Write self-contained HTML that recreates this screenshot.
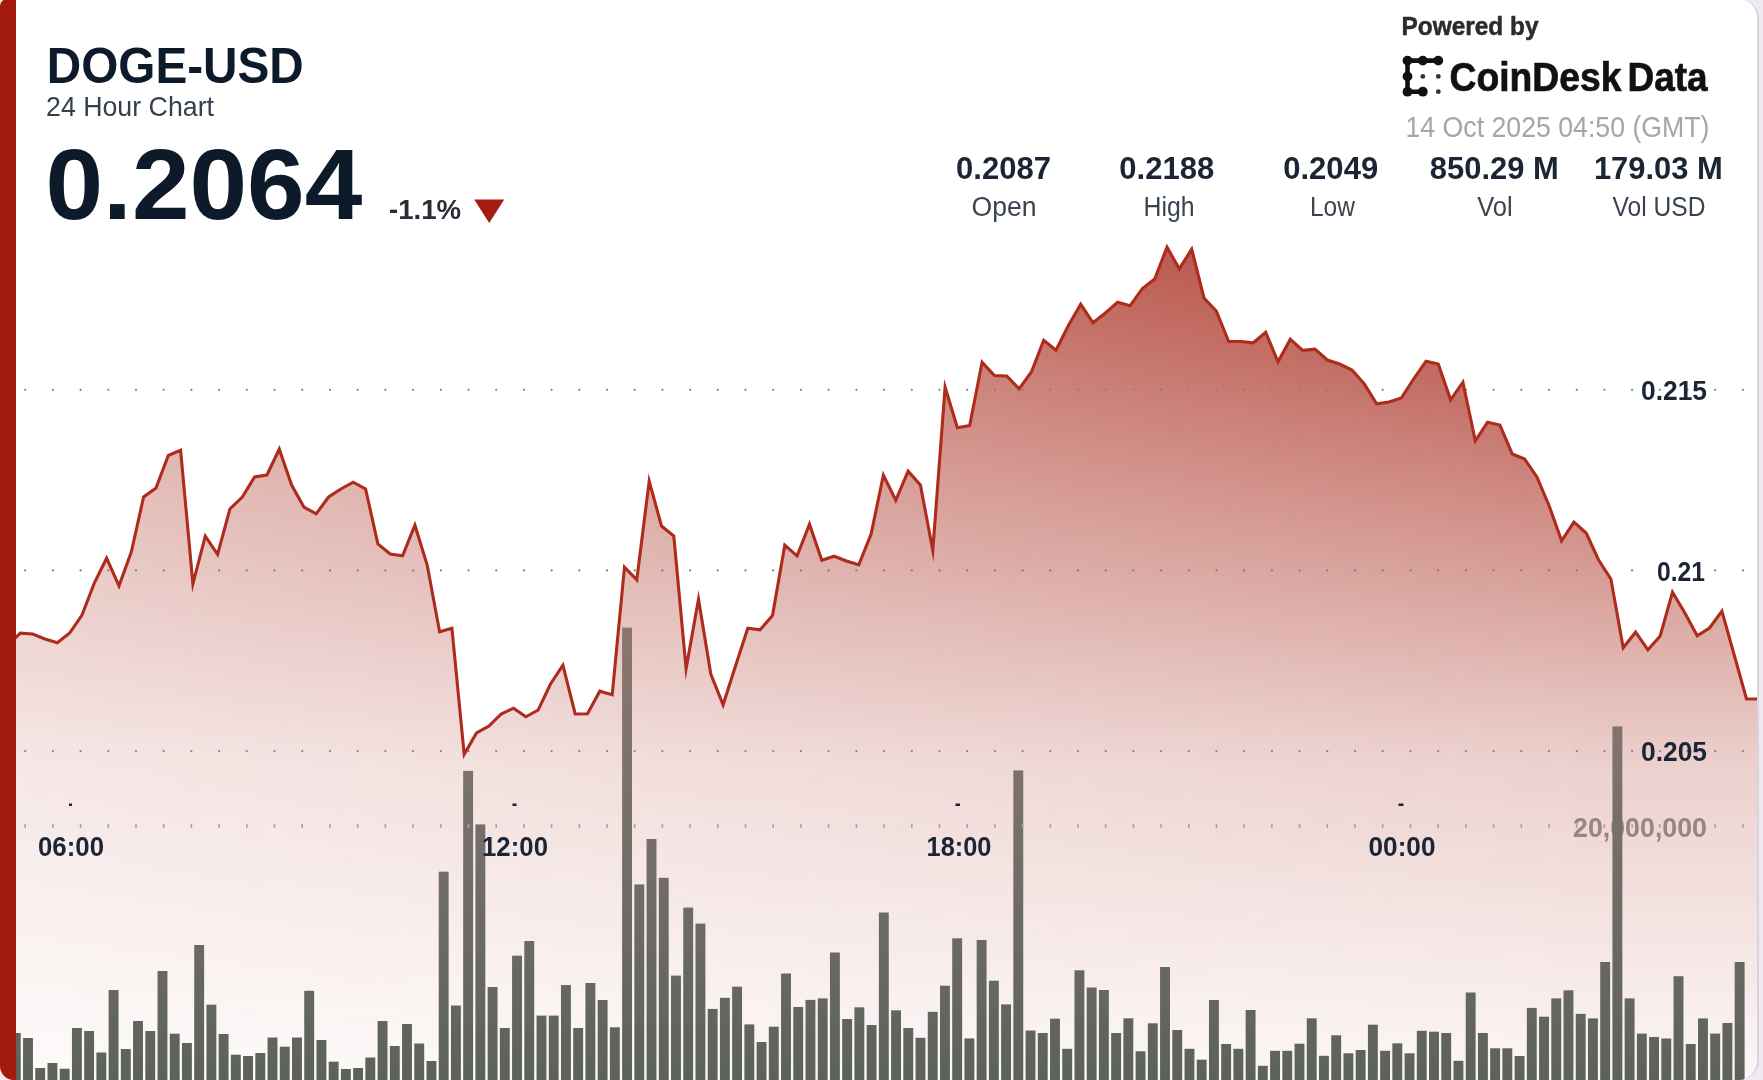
<!DOCTYPE html>
<html><head><meta charset="utf-8">
<style>
html,body{margin:0;padding:0;}
body{width:1763px;height:1080px;overflow:hidden;background:#efeaf1;position:relative;font-family:"Liberation Sans",sans-serif;}
#card{position:absolute;left:0;top:-1px;width:1757px;height:1081px;background:#fff;border-right:2px solid #d9d4dc;border-radius:7px 20px 20px 14px;overflow:hidden;filter:blur(0.5px);}
#redbar{position:absolute;left:0;top:0;width:15.5px;height:1081px;background:#a21b0d;}
svg{position:absolute;left:0;top:1px;}
</style></head>
<body>
<div id="card">
<svg width="1763" height="1080" viewBox="0 0 1763 1080">
<defs>
<linearGradient id="ag" x1="0" y1="246" x2="0" y2="1080" gradientUnits="userSpaceOnUse">
<stop offset="0" stop-color="#a72a1c" stop-opacity="0.9"/>
<stop offset="0.30" stop-color="#a72a1c" stop-opacity="0.56"/>
<stop offset="0.62" stop-color="#a72a1c" stop-opacity="0.22"/>
<stop offset="0.84" stop-color="#a72a1c" stop-opacity="0.115"/>
<stop offset="1" stop-color="#a72a1c" stop-opacity="0.04"/>
</linearGradient>
<linearGradient id="hg" x1="0" y1="0" x2="1600" y2="0" gradientUnits="userSpaceOnUse">
<stop offset="0" stop-color="#fff" stop-opacity="0.5"/>
<stop offset="1" stop-color="#fff" stop-opacity="1"/>
</linearGradient>
<mask id="hm" maskUnits="userSpaceOnUse" x="0" y="0" width="1763" height="1080">
<rect x="0" y="0" width="1763" height="1080" fill="url(#hg)"/>
</mask>
<linearGradient id="bg" x1="0" y1="620" x2="0" y2="1080" gradientUnits="userSpaceOnUse">
<stop offset="0" stop-color="#8c766d"/>
<stop offset="0.4" stop-color="#79706b"/>
<stop offset="1" stop-color="#5c625b"/>
</linearGradient>
</defs>
<path d="M8.0,645.0 L20.3,633.2 L32.7,634.0 L45.0,639.0 L57.3,642.8 L69.7,633.0 L82.0,615.0 L94.3,583.0 L106.6,558.2 L119.0,585.8 L131.3,552.0 L143.6,497.0 L156.0,488.0 L168.3,455.5 L180.6,450.2 L192.9,583.8 L205.3,536.2 L217.6,554.3 L229.9,509.0 L242.3,497.0 L254.6,477.0 L266.9,475.0 L279.3,449.2 L291.6,485.0 L303.9,507.0 L316.2,513.8 L328.6,497.0 L340.9,489.0 L353.2,482.2 L365.6,489.0 L377.9,544.0 L390.2,554.0 L402.6,555.8 L414.9,525.2 L427.2,565.0 L439.6,631.8 L451.9,628.2 L464.2,754.3 L476.5,733.0 L488.9,726.0 L501.2,714.0 L513.5,708.2 L525.9,716.8 L538.2,710.0 L550.5,684.0 L562.9,665.2 L575.2,714.0 L587.5,713.8 L599.8,691.2 L612.2,694.8 L624.5,567.2 L636.8,579.8 L649.2,481.2 L661.5,526.0 L673.8,536.0 L686.1,668.8 L698.5,599.2 L710.8,674.0 L723.1,704.8 L735.5,666.0 L747.8,628.2 L760.1,629.8 L772.5,615.5 L784.8,545.2 L797.1,555.8 L809.5,524.2 L821.8,560.3 L834.1,556.2 L846.4,561.0 L858.8,564.8 L871.1,534.0 L883.4,475.2 L895.8,500.3 L908.1,471.2 L920.4,485.0 L932.8,550.3 L945.1,387.2 L957.4,427.8 L969.7,425.5 L982.1,362.2 L994.4,375.5 L1006.7,376.0 L1019.1,388.8 L1031.4,372.0 L1043.7,340.2 L1056.0,350.3 L1068.4,325.5 L1080.7,304.2 L1093.0,322.8 L1105.4,313.0 L1117.7,302.2 L1130.0,305.8 L1142.4,288.5 L1154.7,279.0 L1167.0,247.2 L1179.3,268.8 L1191.7,249.2 L1204.0,298.0 L1216.3,311.0 L1228.7,341.5 L1241.0,341.5 L1253.3,342.8 L1265.7,332.2 L1278.0,361.8 L1290.3,339.2 L1302.7,350.3 L1315.0,349.2 L1327.3,360.0 L1339.6,364.0 L1352.0,370.0 L1364.3,384.0 L1376.6,403.8 L1389.0,402.0 L1401.3,398.0 L1413.6,379.0 L1426.0,361.2 L1438.3,364.0 L1450.6,399.8 L1462.9,382.2 L1475.3,440.8 L1487.6,422.2 L1499.9,425.0 L1512.3,454.0 L1524.6,459.0 L1536.9,477.0 L1549.2,506.0 L1561.6,540.8 L1573.9,522.2 L1586.2,533.0 L1598.6,560.0 L1610.9,579.0 L1623.2,647.8 L1635.6,632.2 L1647.9,649.8 L1660.2,636.0 L1672.5,592.2 L1684.9,613.0 L1697.2,635.8 L1709.5,628.0 L1721.9,611.2 L1734.2,655.0 L1746.5,699.0 L1758.9,699.0 L1758.9,1080 L8.0,1080 Z" fill="url(#ag)" mask="url(#hm)"/>
<text x="1707" y="836.5" text-anchor="end" font-family="Liberation Sans" font-weight="bold" font-size="28" fill="#968580" textLength="134" lengthAdjust="spacingAndGlyphs">20,000,000</text>
<g fill="url(#bg)"><rect x="10.82" y="1033.0" width="9.9" height="47.0"/><rect x="23.05" y="1038.0" width="9.9" height="42.0"/><rect x="35.27" y="1068.0" width="9.9" height="12.0"/><rect x="47.50" y="1063.0" width="9.9" height="17.0"/><rect x="59.72" y="1068.7" width="9.9" height="11.3"/><rect x="71.95" y="1028.0" width="9.9" height="52.0"/><rect x="84.18" y="1031.0" width="9.9" height="49.0"/><rect x="96.40" y="1052.5" width="9.9" height="27.5"/><rect x="108.63" y="990.0" width="9.9" height="90.0"/><rect x="120.85" y="1049.0" width="9.9" height="31.0"/><rect x="133.08" y="1021.0" width="9.9" height="59.0"/><rect x="145.31" y="1031.0" width="9.9" height="49.0"/><rect x="157.53" y="971.0" width="9.9" height="109.0"/><rect x="169.76" y="1033.7" width="9.9" height="46.3"/><rect x="181.98" y="1043.0" width="9.9" height="37.0"/><rect x="194.21" y="945.0" width="9.9" height="135.0"/><rect x="206.44" y="1004.7" width="9.9" height="75.3"/><rect x="218.66" y="1034.0" width="9.9" height="46.0"/><rect x="230.89" y="1054.7" width="9.9" height="25.3"/><rect x="243.11" y="1056.0" width="9.9" height="24.0"/><rect x="255.34" y="1053.0" width="9.9" height="27.0"/><rect x="267.57" y="1037.5" width="9.9" height="42.5"/><rect x="279.79" y="1046.7" width="9.9" height="33.3"/><rect x="292.02" y="1037.5" width="9.9" height="42.5"/><rect x="304.24" y="990.8" width="9.9" height="89.2"/><rect x="316.47" y="1040.0" width="9.9" height="40.0"/><rect x="328.70" y="1061.7" width="9.9" height="18.3"/><rect x="340.92" y="1069.0" width="9.9" height="11.0"/><rect x="353.15" y="1068.0" width="9.9" height="12.0"/><rect x="365.37" y="1057.5" width="9.9" height="22.5"/><rect x="377.60" y="1021.0" width="9.9" height="59.0"/><rect x="389.83" y="1046.0" width="9.9" height="34.0"/><rect x="402.05" y="1024.0" width="9.9" height="56.0"/><rect x="414.28" y="1043.5" width="9.9" height="36.5"/><rect x="426.50" y="1061.0" width="9.9" height="19.0"/><rect x="438.73" y="871.7" width="9.9" height="208.3"/><rect x="450.96" y="1005.5" width="9.9" height="74.5"/><rect x="463.18" y="770.9" width="9.9" height="309.1"/><rect x="475.41" y="824.4" width="9.9" height="255.6"/><rect x="487.63" y="987.0" width="9.9" height="93.0"/><rect x="499.86" y="1028.0" width="9.9" height="52.0"/><rect x="512.09" y="955.7" width="9.9" height="124.3"/><rect x="524.31" y="941.0" width="9.9" height="139.0"/><rect x="536.54" y="1015.6" width="9.9" height="64.4"/><rect x="548.76" y="1015.6" width="9.9" height="64.4"/><rect x="560.99" y="985.0" width="9.9" height="95.0"/><rect x="573.22" y="1028.0" width="9.9" height="52.0"/><rect x="585.44" y="983.0" width="9.9" height="97.0"/><rect x="597.67" y="1000.0" width="9.9" height="80.0"/><rect x="609.89" y="1027.3" width="9.9" height="52.7"/><rect x="622.12" y="627.6" width="9.9" height="452.4"/><rect x="634.35" y="884.4" width="9.9" height="195.6"/><rect x="646.57" y="839.0" width="9.9" height="241.0"/><rect x="658.80" y="877.8" width="9.9" height="202.2"/><rect x="671.02" y="975.6" width="9.9" height="104.4"/><rect x="683.25" y="907.6" width="9.9" height="172.4"/><rect x="695.48" y="923.6" width="9.9" height="156.4"/><rect x="707.70" y="1008.9" width="9.9" height="71.1"/><rect x="719.93" y="997.8" width="9.9" height="82.2"/><rect x="732.15" y="986.7" width="9.9" height="93.3"/><rect x="744.38" y="1024.4" width="9.9" height="55.6"/><rect x="756.61" y="1042.0" width="9.9" height="38.0"/><rect x="768.83" y="1026.7" width="9.9" height="53.3"/><rect x="781.06" y="973.5" width="9.9" height="106.5"/><rect x="793.28" y="1007.0" width="9.9" height="73.0"/><rect x="805.51" y="999.9" width="9.9" height="80.1"/><rect x="817.74" y="998.4" width="9.9" height="81.6"/><rect x="829.96" y="952.5" width="9.9" height="127.5"/><rect x="842.19" y="1019.0" width="9.9" height="61.0"/><rect x="854.41" y="1007.3" width="9.9" height="72.7"/><rect x="866.64" y="1025.0" width="9.9" height="55.0"/><rect x="878.87" y="912.5" width="9.9" height="167.5"/><rect x="891.09" y="1010.3" width="9.9" height="69.7"/><rect x="903.32" y="1028.0" width="9.9" height="52.0"/><rect x="915.54" y="1037.8" width="9.9" height="42.2"/><rect x="927.77" y="1011.8" width="9.9" height="68.2"/><rect x="940.00" y="985.7" width="9.9" height="94.3"/><rect x="952.22" y="938.3" width="9.9" height="141.7"/><rect x="964.45" y="1038.4" width="9.9" height="41.6"/><rect x="976.67" y="940.0" width="9.9" height="140.0"/><rect x="988.90" y="980.7" width="9.9" height="99.3"/><rect x="1001.13" y="1004.4" width="9.9" height="75.6"/><rect x="1013.35" y="770.4" width="9.9" height="309.6"/><rect x="1025.58" y="1030.5" width="9.9" height="49.5"/><rect x="1037.80" y="1033.0" width="9.9" height="47.0"/><rect x="1050.03" y="1018.7" width="9.9" height="61.3"/><rect x="1062.26" y="1048.8" width="9.9" height="31.2"/><rect x="1074.48" y="970.3" width="9.9" height="109.7"/><rect x="1086.71" y="987.5" width="9.9" height="92.5"/><rect x="1098.93" y="990.0" width="9.9" height="90.0"/><rect x="1111.16" y="1033.0" width="9.9" height="47.0"/><rect x="1123.39" y="1018.3" width="9.9" height="61.7"/><rect x="1135.61" y="1051.3" width="9.9" height="28.7"/><rect x="1147.84" y="1023.3" width="9.9" height="56.7"/><rect x="1160.06" y="967.0" width="9.9" height="113.0"/><rect x="1172.29" y="1030.0" width="9.9" height="50.0"/><rect x="1184.52" y="1048.8" width="9.9" height="31.2"/><rect x="1196.74" y="1059.7" width="9.9" height="20.3"/><rect x="1208.97" y="1000.0" width="9.9" height="80.0"/><rect x="1221.19" y="1044.0" width="9.9" height="36.0"/><rect x="1233.42" y="1048.8" width="9.9" height="31.2"/><rect x="1245.65" y="1010.0" width="9.9" height="70.0"/><rect x="1257.87" y="1065.8" width="9.9" height="14.2"/><rect x="1270.10" y="1050.8" width="9.9" height="29.2"/><rect x="1282.32" y="1050.8" width="9.9" height="29.2"/><rect x="1294.55" y="1043.7" width="9.9" height="36.3"/><rect x="1306.78" y="1018.3" width="9.9" height="61.7"/><rect x="1319.00" y="1055.8" width="9.9" height="24.2"/><rect x="1331.23" y="1035.3" width="9.9" height="44.7"/><rect x="1343.45" y="1053.3" width="9.9" height="26.7"/><rect x="1355.68" y="1050.0" width="9.9" height="30.0"/><rect x="1367.91" y="1024.7" width="9.9" height="55.3"/><rect x="1380.13" y="1050.8" width="9.9" height="29.2"/><rect x="1392.36" y="1043.3" width="9.9" height="36.7"/><rect x="1404.58" y="1053.3" width="9.9" height="26.7"/><rect x="1416.81" y="1030.8" width="9.9" height="49.2"/><rect x="1429.04" y="1031.7" width="9.9" height="48.3"/><rect x="1441.26" y="1033.0" width="9.9" height="47.0"/><rect x="1453.49" y="1060.8" width="9.9" height="19.2"/><rect x="1465.71" y="992.5" width="9.9" height="87.5"/><rect x="1477.94" y="1033.0" width="9.9" height="47.0"/><rect x="1490.17" y="1048.3" width="9.9" height="31.7"/><rect x="1502.39" y="1048.3" width="9.9" height="31.7"/><rect x="1514.62" y="1056.0" width="9.9" height="24.0"/><rect x="1526.84" y="1007.9" width="9.9" height="72.1"/><rect x="1539.07" y="1016.7" width="9.9" height="63.3"/><rect x="1551.30" y="998.4" width="9.9" height="81.6"/><rect x="1563.52" y="990.3" width="9.9" height="89.7"/><rect x="1575.75" y="1013.9" width="9.9" height="66.1"/><rect x="1587.97" y="1018.4" width="9.9" height="61.6"/><rect x="1600.20" y="962.0" width="9.9" height="118.0"/><rect x="1612.43" y="726.4" width="9.9" height="353.6"/><rect x="1624.65" y="998.4" width="9.9" height="81.6"/><rect x="1636.88" y="1033.6" width="9.9" height="46.4"/><rect x="1649.10" y="1037.0" width="9.9" height="43.0"/><rect x="1661.33" y="1038.5" width="9.9" height="41.5"/><rect x="1673.56" y="976.2" width="9.9" height="103.8"/><rect x="1685.78" y="1044.0" width="9.9" height="36.0"/><rect x="1698.01" y="1018.4" width="9.9" height="61.6"/><rect x="1710.23" y="1033.6" width="9.9" height="46.4"/><rect x="1722.46" y="1023.0" width="9.9" height="57.0"/><rect x="1734.69" y="962.0" width="9.9" height="118.0"/></g>
<g fill="#7b7f84"><circle cx="25.2" cy="389.8" r="1.1"/><circle cx="52.9" cy="389.8" r="1.1"/><circle cx="80.6" cy="389.8" r="1.1"/><circle cx="108.3" cy="389.8" r="1.1"/><circle cx="136.0" cy="389.8" r="1.1"/><circle cx="163.7" cy="389.8" r="1.1"/><circle cx="191.4" cy="389.8" r="1.1"/><circle cx="219.1" cy="389.8" r="1.1"/><circle cx="246.8" cy="389.8" r="1.1"/><circle cx="274.5" cy="389.8" r="1.1"/><circle cx="302.2" cy="389.8" r="1.1"/><circle cx="330.0" cy="389.8" r="1.1"/><circle cx="357.7" cy="389.8" r="1.1"/><circle cx="385.4" cy="389.8" r="1.1"/><circle cx="413.1" cy="389.8" r="1.1"/><circle cx="440.8" cy="389.8" r="1.1"/><circle cx="468.5" cy="389.8" r="1.1"/><circle cx="496.2" cy="389.8" r="1.1"/><circle cx="523.9" cy="389.8" r="1.1"/><circle cx="551.6" cy="389.8" r="1.1"/><circle cx="579.3" cy="389.8" r="1.1"/><circle cx="607.0" cy="389.8" r="1.1"/><circle cx="634.7" cy="389.8" r="1.1"/><circle cx="662.4" cy="389.8" r="1.1"/><circle cx="690.1" cy="389.8" r="1.1"/><circle cx="717.8" cy="389.8" r="1.1"/><circle cx="745.5" cy="389.8" r="1.1"/><circle cx="773.2" cy="389.8" r="1.1"/><circle cx="800.9" cy="389.8" r="1.1"/><circle cx="828.6" cy="389.8" r="1.1"/><circle cx="856.4" cy="389.8" r="1.1"/><circle cx="884.1" cy="389.8" r="1.1"/><circle cx="911.8" cy="389.8" r="1.1"/><circle cx="939.5" cy="389.8" r="1.1"/><circle cx="967.2" cy="389.8" r="1.1"/><circle cx="994.9" cy="389.8" r="1.1"/><circle cx="1022.6" cy="389.8" r="1.1"/><circle cx="1050.3" cy="389.8" r="1.1"/><circle cx="1078.0" cy="389.8" r="1.1"/><circle cx="1105.7" cy="389.8" r="1.1"/><circle cx="1133.4" cy="389.8" r="1.1"/><circle cx="1161.1" cy="389.8" r="1.1"/><circle cx="1188.8" cy="389.8" r="1.1"/><circle cx="1216.5" cy="389.8" r="1.1"/><circle cx="1244.2" cy="389.8" r="1.1"/><circle cx="1271.9" cy="389.8" r="1.1"/><circle cx="1299.6" cy="389.8" r="1.1"/><circle cx="1327.3" cy="389.8" r="1.1"/><circle cx="1355.0" cy="389.8" r="1.1"/><circle cx="1382.7" cy="389.8" r="1.1"/><circle cx="1410.5" cy="389.8" r="1.1"/><circle cx="1438.2" cy="389.8" r="1.1"/><circle cx="1465.9" cy="389.8" r="1.1"/><circle cx="1493.6" cy="389.8" r="1.1"/><circle cx="1521.3" cy="389.8" r="1.1"/><circle cx="1549.0" cy="389.8" r="1.1"/><circle cx="1576.7" cy="389.8" r="1.1"/><circle cx="1604.4" cy="389.8" r="1.1"/><circle cx="1632.1" cy="389.8" r="1.1"/><circle cx="1659.8" cy="389.8" r="1.1"/><circle cx="1687.5" cy="389.8" r="1.1"/><circle cx="1715.2" cy="389.8" r="1.1"/><circle cx="1742.9" cy="389.8" r="1.1"/><circle cx="25.2" cy="570.4" r="1.1"/><circle cx="52.9" cy="570.4" r="1.1"/><circle cx="80.6" cy="570.4" r="1.1"/><circle cx="108.3" cy="570.4" r="1.1"/><circle cx="136.0" cy="570.4" r="1.1"/><circle cx="163.7" cy="570.4" r="1.1"/><circle cx="191.4" cy="570.4" r="1.1"/><circle cx="219.1" cy="570.4" r="1.1"/><circle cx="246.8" cy="570.4" r="1.1"/><circle cx="274.5" cy="570.4" r="1.1"/><circle cx="302.2" cy="570.4" r="1.1"/><circle cx="330.0" cy="570.4" r="1.1"/><circle cx="357.7" cy="570.4" r="1.1"/><circle cx="385.4" cy="570.4" r="1.1"/><circle cx="413.1" cy="570.4" r="1.1"/><circle cx="440.8" cy="570.4" r="1.1"/><circle cx="468.5" cy="570.4" r="1.1"/><circle cx="496.2" cy="570.4" r="1.1"/><circle cx="523.9" cy="570.4" r="1.1"/><circle cx="551.6" cy="570.4" r="1.1"/><circle cx="579.3" cy="570.4" r="1.1"/><circle cx="607.0" cy="570.4" r="1.1"/><circle cx="634.7" cy="570.4" r="1.1"/><circle cx="662.4" cy="570.4" r="1.1"/><circle cx="690.1" cy="570.4" r="1.1"/><circle cx="717.8" cy="570.4" r="1.1"/><circle cx="745.5" cy="570.4" r="1.1"/><circle cx="773.2" cy="570.4" r="1.1"/><circle cx="800.9" cy="570.4" r="1.1"/><circle cx="828.6" cy="570.4" r="1.1"/><circle cx="856.4" cy="570.4" r="1.1"/><circle cx="884.1" cy="570.4" r="1.1"/><circle cx="911.8" cy="570.4" r="1.1"/><circle cx="939.5" cy="570.4" r="1.1"/><circle cx="967.2" cy="570.4" r="1.1"/><circle cx="994.9" cy="570.4" r="1.1"/><circle cx="1022.6" cy="570.4" r="1.1"/><circle cx="1050.3" cy="570.4" r="1.1"/><circle cx="1078.0" cy="570.4" r="1.1"/><circle cx="1105.7" cy="570.4" r="1.1"/><circle cx="1133.4" cy="570.4" r="1.1"/><circle cx="1161.1" cy="570.4" r="1.1"/><circle cx="1188.8" cy="570.4" r="1.1"/><circle cx="1216.5" cy="570.4" r="1.1"/><circle cx="1244.2" cy="570.4" r="1.1"/><circle cx="1271.9" cy="570.4" r="1.1"/><circle cx="1299.6" cy="570.4" r="1.1"/><circle cx="1327.3" cy="570.4" r="1.1"/><circle cx="1355.0" cy="570.4" r="1.1"/><circle cx="1382.7" cy="570.4" r="1.1"/><circle cx="1410.5" cy="570.4" r="1.1"/><circle cx="1438.2" cy="570.4" r="1.1"/><circle cx="1465.9" cy="570.4" r="1.1"/><circle cx="1493.6" cy="570.4" r="1.1"/><circle cx="1521.3" cy="570.4" r="1.1"/><circle cx="1549.0" cy="570.4" r="1.1"/><circle cx="1576.7" cy="570.4" r="1.1"/><circle cx="1604.4" cy="570.4" r="1.1"/><circle cx="1632.1" cy="570.4" r="1.1"/><circle cx="1659.8" cy="570.4" r="1.1"/><circle cx="1687.5" cy="570.4" r="1.1"/><circle cx="1715.2" cy="570.4" r="1.1"/><circle cx="1742.9" cy="570.4" r="1.1"/><circle cx="25.2" cy="751" r="1.1"/><circle cx="52.9" cy="751" r="1.1"/><circle cx="80.6" cy="751" r="1.1"/><circle cx="108.3" cy="751" r="1.1"/><circle cx="136.0" cy="751" r="1.1"/><circle cx="163.7" cy="751" r="1.1"/><circle cx="191.4" cy="751" r="1.1"/><circle cx="219.1" cy="751" r="1.1"/><circle cx="246.8" cy="751" r="1.1"/><circle cx="274.5" cy="751" r="1.1"/><circle cx="302.2" cy="751" r="1.1"/><circle cx="330.0" cy="751" r="1.1"/><circle cx="357.7" cy="751" r="1.1"/><circle cx="385.4" cy="751" r="1.1"/><circle cx="413.1" cy="751" r="1.1"/><circle cx="440.8" cy="751" r="1.1"/><circle cx="468.5" cy="751" r="1.1"/><circle cx="496.2" cy="751" r="1.1"/><circle cx="523.9" cy="751" r="1.1"/><circle cx="551.6" cy="751" r="1.1"/><circle cx="579.3" cy="751" r="1.1"/><circle cx="607.0" cy="751" r="1.1"/><circle cx="634.7" cy="751" r="1.1"/><circle cx="662.4" cy="751" r="1.1"/><circle cx="690.1" cy="751" r="1.1"/><circle cx="717.8" cy="751" r="1.1"/><circle cx="745.5" cy="751" r="1.1"/><circle cx="773.2" cy="751" r="1.1"/><circle cx="800.9" cy="751" r="1.1"/><circle cx="828.6" cy="751" r="1.1"/><circle cx="856.4" cy="751" r="1.1"/><circle cx="884.1" cy="751" r="1.1"/><circle cx="911.8" cy="751" r="1.1"/><circle cx="939.5" cy="751" r="1.1"/><circle cx="967.2" cy="751" r="1.1"/><circle cx="994.9" cy="751" r="1.1"/><circle cx="1022.6" cy="751" r="1.1"/><circle cx="1050.3" cy="751" r="1.1"/><circle cx="1078.0" cy="751" r="1.1"/><circle cx="1105.7" cy="751" r="1.1"/><circle cx="1133.4" cy="751" r="1.1"/><circle cx="1161.1" cy="751" r="1.1"/><circle cx="1188.8" cy="751" r="1.1"/><circle cx="1216.5" cy="751" r="1.1"/><circle cx="1244.2" cy="751" r="1.1"/><circle cx="1271.9" cy="751" r="1.1"/><circle cx="1299.6" cy="751" r="1.1"/><circle cx="1327.3" cy="751" r="1.1"/><circle cx="1355.0" cy="751" r="1.1"/><circle cx="1382.7" cy="751" r="1.1"/><circle cx="1410.5" cy="751" r="1.1"/><circle cx="1438.2" cy="751" r="1.1"/><circle cx="1465.9" cy="751" r="1.1"/><circle cx="1493.6" cy="751" r="1.1"/><circle cx="1521.3" cy="751" r="1.1"/><circle cx="1549.0" cy="751" r="1.1"/><circle cx="1576.7" cy="751" r="1.1"/><circle cx="1604.4" cy="751" r="1.1"/><circle cx="1632.1" cy="751" r="1.1"/><circle cx="1659.8" cy="751" r="1.1"/><circle cx="1687.5" cy="751" r="1.1"/><circle cx="1715.2" cy="751" r="1.1"/><circle cx="1742.9" cy="751" r="1.1"/></g>
<g fill="#aaa3a3"><rect x="24.4" y="824" width="1.6" height="4"/><rect x="52.1" y="824" width="1.6" height="4"/><rect x="79.8" y="824" width="1.6" height="4"/><rect x="107.5" y="824" width="1.6" height="4"/><rect x="135.2" y="824" width="1.6" height="4"/><rect x="162.9" y="824" width="1.6" height="4"/><rect x="190.6" y="824" width="1.6" height="4"/><rect x="218.3" y="824" width="1.6" height="4"/><rect x="246.0" y="824" width="1.6" height="4"/><rect x="273.7" y="824" width="1.6" height="4"/><rect x="301.4" y="824" width="1.6" height="4"/><rect x="329.2" y="824" width="1.6" height="4"/><rect x="356.9" y="824" width="1.6" height="4"/><rect x="384.6" y="824" width="1.6" height="4"/><rect x="412.3" y="824" width="1.6" height="4"/><rect x="440.0" y="824" width="1.6" height="4"/><rect x="467.7" y="824" width="1.6" height="4"/><rect x="495.4" y="824" width="1.6" height="4"/><rect x="523.1" y="824" width="1.6" height="4"/><rect x="550.8" y="824" width="1.6" height="4"/><rect x="578.5" y="824" width="1.6" height="4"/><rect x="606.2" y="824" width="1.6" height="4"/><rect x="633.9" y="824" width="1.6" height="4"/><rect x="661.6" y="824" width="1.6" height="4"/><rect x="689.3" y="824" width="1.6" height="4"/><rect x="717.0" y="824" width="1.6" height="4"/><rect x="744.7" y="824" width="1.6" height="4"/><rect x="772.4" y="824" width="1.6" height="4"/><rect x="800.1" y="824" width="1.6" height="4"/><rect x="827.8" y="824" width="1.6" height="4"/><rect x="855.6" y="824" width="1.6" height="4"/><rect x="883.3" y="824" width="1.6" height="4"/><rect x="911.0" y="824" width="1.6" height="4"/><rect x="938.7" y="824" width="1.6" height="4"/><rect x="966.4" y="824" width="1.6" height="4"/><rect x="994.1" y="824" width="1.6" height="4"/><rect x="1021.8" y="824" width="1.6" height="4"/><rect x="1049.5" y="824" width="1.6" height="4"/><rect x="1077.2" y="824" width="1.6" height="4"/><rect x="1104.9" y="824" width="1.6" height="4"/><rect x="1132.6" y="824" width="1.6" height="4"/><rect x="1160.3" y="824" width="1.6" height="4"/><rect x="1188.0" y="824" width="1.6" height="4"/><rect x="1215.7" y="824" width="1.6" height="4"/><rect x="1243.4" y="824" width="1.6" height="4"/><rect x="1271.1" y="824" width="1.6" height="4"/><rect x="1298.8" y="824" width="1.6" height="4"/><rect x="1326.5" y="824" width="1.6" height="4"/><rect x="1354.2" y="824" width="1.6" height="4"/><rect x="1381.9" y="824" width="1.6" height="4"/><rect x="1409.7" y="824" width="1.6" height="4"/><rect x="1437.4" y="824" width="1.6" height="4"/><rect x="1465.1" y="824" width="1.6" height="4"/><rect x="1492.8" y="824" width="1.6" height="4"/><rect x="1520.5" y="824" width="1.6" height="4"/><rect x="1548.2" y="824" width="1.6" height="4"/><rect x="1575.9" y="824" width="1.6" height="4"/><rect x="1603.6" y="824" width="1.6" height="4"/><rect x="1631.3" y="824" width="1.6" height="4"/><rect x="1659.0" y="824" width="1.6" height="4"/><rect x="1686.7" y="824" width="1.6" height="4"/><rect x="1714.4" y="824" width="1.6" height="4"/><rect x="1742.1" y="824" width="1.6" height="4"/></g>
<path d="M8.0,645.0 L20.3,633.2 L32.7,634.0 L45.0,639.0 L57.3,642.8 L69.7,633.0 L82.0,615.0 L94.3,583.0 L106.6,558.2 L119.0,585.8 L131.3,552.0 L143.6,497.0 L156.0,488.0 L168.3,455.5 L180.6,450.2 L192.9,583.8 L205.3,536.2 L217.6,554.3 L229.9,509.0 L242.3,497.0 L254.6,477.0 L266.9,475.0 L279.3,449.2 L291.6,485.0 L303.9,507.0 L316.2,513.8 L328.6,497.0 L340.9,489.0 L353.2,482.2 L365.6,489.0 L377.9,544.0 L390.2,554.0 L402.6,555.8 L414.9,525.2 L427.2,565.0 L439.6,631.8 L451.9,628.2 L464.2,754.3 L476.5,733.0 L488.9,726.0 L501.2,714.0 L513.5,708.2 L525.9,716.8 L538.2,710.0 L550.5,684.0 L562.9,665.2 L575.2,714.0 L587.5,713.8 L599.8,691.2 L612.2,694.8 L624.5,567.2 L636.8,579.8 L649.2,481.2 L661.5,526.0 L673.8,536.0 L686.1,668.8 L698.5,599.2 L710.8,674.0 L723.1,704.8 L735.5,666.0 L747.8,628.2 L760.1,629.8 L772.5,615.5 L784.8,545.2 L797.1,555.8 L809.5,524.2 L821.8,560.3 L834.1,556.2 L846.4,561.0 L858.8,564.8 L871.1,534.0 L883.4,475.2 L895.8,500.3 L908.1,471.2 L920.4,485.0 L932.8,550.3 L945.1,387.2 L957.4,427.8 L969.7,425.5 L982.1,362.2 L994.4,375.5 L1006.7,376.0 L1019.1,388.8 L1031.4,372.0 L1043.7,340.2 L1056.0,350.3 L1068.4,325.5 L1080.7,304.2 L1093.0,322.8 L1105.4,313.0 L1117.7,302.2 L1130.0,305.8 L1142.4,288.5 L1154.7,279.0 L1167.0,247.2 L1179.3,268.8 L1191.7,249.2 L1204.0,298.0 L1216.3,311.0 L1228.7,341.5 L1241.0,341.5 L1253.3,342.8 L1265.7,332.2 L1278.0,361.8 L1290.3,339.2 L1302.7,350.3 L1315.0,349.2 L1327.3,360.0 L1339.6,364.0 L1352.0,370.0 L1364.3,384.0 L1376.6,403.8 L1389.0,402.0 L1401.3,398.0 L1413.6,379.0 L1426.0,361.2 L1438.3,364.0 L1450.6,399.8 L1462.9,382.2 L1475.3,440.8 L1487.6,422.2 L1499.9,425.0 L1512.3,454.0 L1524.6,459.0 L1536.9,477.0 L1549.2,506.0 L1561.6,540.8 L1573.9,522.2 L1586.2,533.0 L1598.6,560.0 L1610.9,579.0 L1623.2,647.8 L1635.6,632.2 L1647.9,649.8 L1660.2,636.0 L1672.5,592.2 L1684.9,613.0 L1697.2,635.8 L1709.5,628.0 L1721.9,611.2 L1734.2,655.0 L1746.5,699.0 L1758.9,699.0" fill="none" stroke="#ae2c1b" stroke-width="3.1" stroke-linejoin="miter" stroke-miterlimit="10"/>
<g font-family="Liberation Sans" font-weight="bold" font-size="28.5" fill="#1b2535" text-anchor="end">
<text x="1707" y="399.5" textLength="66" lengthAdjust="spacingAndGlyphs">0.215</text>
<text x="1705" y="580.8" textLength="48" lengthAdjust="spacingAndGlyphs">0.21</text>
<text x="1707" y="760.8" textLength="66" lengthAdjust="spacingAndGlyphs">0.205</text>
</g>
<g fill="#1b2535">
<rect x="69" y="803.5" width="3" height="2.5"/><rect x="512.5" y="803.5" width="4" height="2.5"/><rect x="955.5" y="803.5" width="4.5" height="2.5"/><rect x="1398.5" y="803.5" width="5" height="2.5"/>
</g>
<g font-family="Liberation Sans" font-weight="bold" font-size="28.5" fill="#1b2535" text-anchor="middle">
<text x="71" y="856" textLength="66" lengthAdjust="spacingAndGlyphs">06:00</text>
<text x="515" y="856" textLength="66" lengthAdjust="spacingAndGlyphs">12:00</text>
<text x="959" y="856" textLength="65" lengthAdjust="spacingAndGlyphs">18:00</text>
<text x="1402" y="856" textLength="67" lengthAdjust="spacingAndGlyphs">00:00</text>
</g>
<!-- header -->
<text x="46.8" y="82.7" font-family="Liberation Sans" font-weight="bold" font-size="50" fill="#0c1a2a" textLength="257" lengthAdjust="spacingAndGlyphs">DOGE-USD</text>
<text x="46" y="116" font-family="Liberation Sans" font-size="28" fill="#36404c" textLength="168" lengthAdjust="spacingAndGlyphs">24 Hour Chart</text>
<text x="45.5" y="218.5" font-family="Liberation Sans" font-weight="bold" font-size="100" fill="#0c1a2a" textLength="316.8" lengthAdjust="spacingAndGlyphs">0.2064</text>
<text x="389" y="218.5" font-family="Liberation Sans" font-weight="bold" font-size="27.5" fill="#262d38" textLength="72" lengthAdjust="spacingAndGlyphs">-1.1%</text>
<path d="M474.2,199.4 L504.2,199.4 L489.2,223 Z" fill="#a51d10"/>
<g font-family="Liberation Sans" font-weight="bold" font-size="31" fill="#1b2535" text-anchor="middle">
<text x="1003.5" y="178.6" textLength="95" lengthAdjust="spacingAndGlyphs">0.2087</text>
<text x="1166.8" y="178.6" textLength="95" lengthAdjust="spacingAndGlyphs">0.2188</text>
<text x="1330.7" y="178.6" textLength="95" lengthAdjust="spacingAndGlyphs">0.2049</text>
<text x="1494.3" y="178.6" textLength="129" lengthAdjust="spacingAndGlyphs">850.29 M</text>
<text x="1658.4" y="178.6" textLength="129" lengthAdjust="spacingAndGlyphs">179.03 M</text>
</g>
<g font-family="Liberation Sans" font-size="27" fill="#3a4450" text-anchor="middle">
<text x="1004" y="216.2" textLength="65" lengthAdjust="spacingAndGlyphs">Open</text>
<text x="1169" y="216.2" textLength="51" lengthAdjust="spacingAndGlyphs">High</text>
<text x="1332.4" y="216.2" textLength="45" lengthAdjust="spacingAndGlyphs">Low</text>
<text x="1495" y="216.2" textLength="35.5" lengthAdjust="spacingAndGlyphs">Vol</text>
<text x="1659" y="216.2" textLength="93" lengthAdjust="spacingAndGlyphs">Vol USD</text>
</g>
<text x="1401.5" y="35" font-family="Liberation Sans" font-weight="bold" font-size="26" fill="#2b2b2b" stroke="#2b2b2b" stroke-width="0.5" textLength="137" lengthAdjust="spacingAndGlyphs">Powered by</text>
<g font-family="Liberation Sans" font-weight="bold" font-size="41" fill="#111" stroke="#111" stroke-width="0.7"><text x="1449.5" y="90.7" textLength="172" lengthAdjust="spacingAndGlyphs">CoinDesk</text><text x="1627.5" y="90.7" textLength="80" lengthAdjust="spacingAndGlyphs">Data</text></g>
<text x="1405.5" y="136.6" font-family="Liberation Sans" font-size="30" fill="#a6a6a6" textLength="304" lengthAdjust="spacingAndGlyphs">14 Oct 2025 04:50 (GMT)</text>
<!-- logo -->
<g fill="#111">
<path d="M1438.3,60.6 L1407.5,60.6 L1407.5,91.7 L1422.8,91.7" fill="none" stroke="#111" stroke-width="4.6"/>
<circle cx="1407.5" cy="60.6" r="4.9"/><circle cx="1422.8" cy="60.6" r="4.9"/><circle cx="1438.3" cy="60.6" r="4.9"/>
<circle cx="1407.5" cy="76.4" r="4.9"/><circle cx="1407.5" cy="91.7" r="4.9"/><circle cx="1422.8" cy="91.7" r="4.9"/>
<circle cx="1422.8" cy="76.4" r="2.4" fill="#333"/><circle cx="1438.3" cy="76.4" r="2.4" fill="#333"/><circle cx="1438.3" cy="91.7" r="2.4" fill="#333"/>
</g>
</svg>
<div id="redbar"></div>
</div>
</body></html>
